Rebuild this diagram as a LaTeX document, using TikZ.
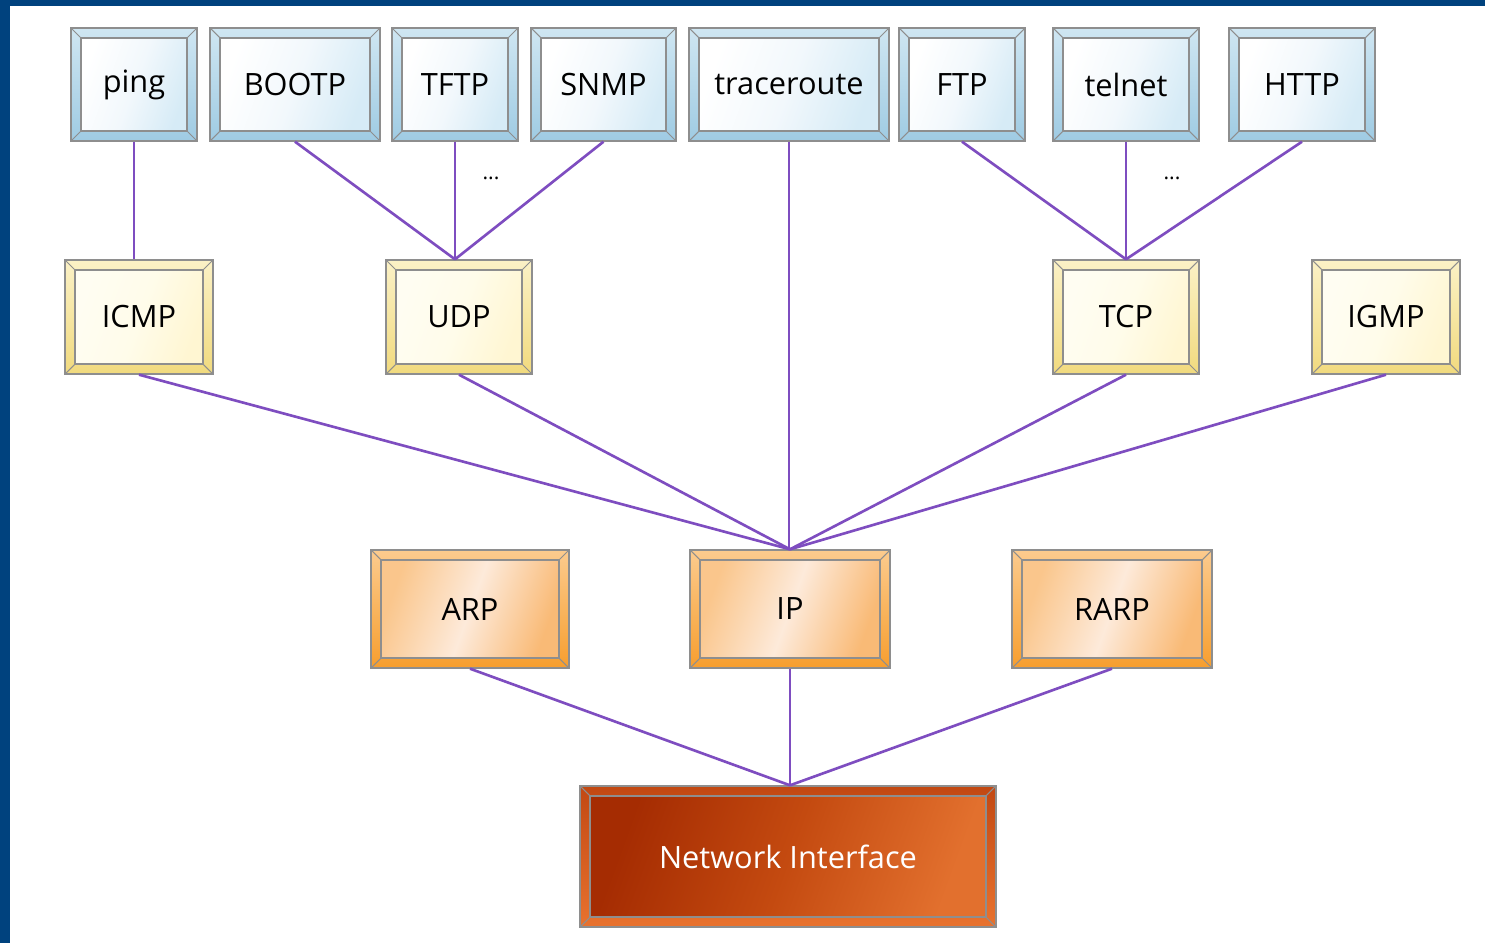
\documentclass[tikz,border=0pt]{standalone}
\usepackage{fontspec}
\setmainfont{Open Sans}
\usepackage{xcolor}
\usepackage{tikz}
\definecolor{frame}{HTML}{8E8E8E}
\definecolor{wire}{HTML}{7E4DC0}
\definecolor{border}{HTML}{00427E}
\definecolor{apptop}{HTML}{CFE6F2}
\definecolor{appbot}{HTML}{9FCBE3}
\definecolor{appmid}{HTML}{F2F8FC}
\definecolor{appright}{HTML}{D6EBF6}
\definecolor{transtop}{HTML}{FBF1C6}
\definecolor{transbot}{HTML}{F1DA7E}
\definecolor{transleft}{HTML}{FFFDF2}
\definecolor{transmid}{HTML}{FFFCEA}
\definecolor{transright}{HTML}{FFF6D2}
\definecolor{nettop}{HTML}{FCCB8E}
\definecolor{netbot}{HTML}{F79E2E}
\definecolor{netleft}{HTML}{FAC68C}
\definecolor{netmid}{HTML}{FDEADA}
\definecolor{netright}{HTML}{F9BA76}
\definecolor{linktop}{HTML}{C24812}
\definecolor{linkbot}{HTML}{E8722E}
\definecolor{linkleft}{HTML}{A52C02}
\definecolor{linkmid}{HTML}{C44A10}
\definecolor{linkright}{HTML}{E2702E}

\tikzset{
	bevel/.style n args={5}{draw=frame, line width=0.8pt, inner sep=0pt, align=center,
		font=\fontsize{17.5}{20}\selectfont, top color=#1, bottom color=#2,
		path picture={
			\coordinate (bsw) at (path picture bounding box.south west);
			\coordinate (bne) at (path picture bounding box.north east);
			\coordinate (bnw) at (path picture bounding box.north west);
			\coordinate (bse) at (path picture bounding box.south east);
			\shade[left color=#3, right color=#5, middle color=#4, shading angle=70]
				([shift={(0.2cm,0.2cm)}]bsw) rectangle ([shift={(-0.2cm,-0.2cm)}]bne);
			\draw[frame, line width=0.8pt]
				([shift={(0.2cm,0.2cm)}]bsw) rectangle ([shift={(-0.2cm,-0.2cm)}]bne);
			\draw[frame, line width=0.6pt] (bsw) -- ++(0.2cm,0.2cm) (bne) -- ++(-0.2cm,-0.2cm)
				(bnw) -- ++(0.2cm,-0.2cm) (bse) -- ++(-0.2cm,0.2cm);
		}},
	appbox/.style={bevel={apptop}{appbot}{white}{appmid}{appright}, minimum height=2.26cm},
	transbox/.style={bevel={transtop}{transbot}{transleft}{transmid}{transright}, minimum height=2.28cm},
	netbox/.style={bevel={nettop}{netbot}{netleft}{netmid}{netright}, minimum height=2.36cm},
	linkbox/.style={bevel={linktop}{linkbot}{linkleft}{linkmid}{linkright}, minimum height=2.82cm, text=white},
	wire/.style={draw=wire, line width=1.5pt, line join=round},
}

\begin{document}
\begin{tikzpicture}[x=0.02cm, y=-0.02cm]
	\fill[border] (0,0) rectangle (1485,943);
	\fill[white] (10,6) rectangle (1485,943);
	\useasboundingbox (0,0) rectangle (1485,943);

	\node (ping) [appbox, minimum width=2.52cm] at (134,84.5) {ping};
	\node (bootp) [appbox, minimum width=3.4cm] at (295,84.5) {BOOTP};
	\node (tftp) [appbox, minimum width=2.52cm] at (455,84.5) {TFTP};
	\node (snmp) [appbox, minimum width=2.9cm] at (603.5,84.5) {SNMP};
	\node (traceroute) [appbox, minimum width=4cm] at (789,84.5) {traceroute};
	\node (ftp) [appbox, minimum width=2.52cm] at (962,84.5) {FTP};
	\node (telnet) [appbox, minimum width=2.92cm] at (1126,84.5) {telnet};
	\node (http) [appbox, minimum width=2.92cm] at (1302,84.5) {HTTP};

	\node (icmp) [transbox, minimum width=2.96cm] at (139,317) {ICMP};
	\node (udp) [transbox, minimum width=2.92cm] at (459,317) {UDP};
	\node (tcp) [transbox, minimum width=2.92cm] at (1126,317) {TCP};
	\node (igmp) [transbox, minimum width=2.96cm] at (1386,317) {IGMP};

	\node (arp) [netbox, minimum width=3.96cm] at (470,609) {ARP};
	\node (ip) [netbox, minimum width=4cm] at (790,609) {IP};
	\node (rarp) [netbox, minimum width=4cm] at (1112,609) {RARP};

	\node (netif) [linkbox, minimum width=8.32cm] at (788,856.5) {Network Interface};

	\node (udpdots) [font=\large] at (491,178) {...};
	\node (tcpdots) [font=\large] at (1172,178) {...};

	\draw [wire] (ping.south) -- (ping.south |- icmp.north);
	\draw [wire] (bootp.south) -- (tftp.south |- udp.north);
	\draw [wire] (tftp.south) -- (tftp.south |- udp.north);
	\draw [wire] (snmp.south) -- (tftp.south |- udp.north);
	\draw [wire] (traceroute.south) -- (traceroute.south |- ip.north);
	\draw [wire] (ftp.south) -- (tcp.north);
	\draw [wire] (telnet.south) -- (tcp.north);
	\draw [wire] (http.south) -- (tcp.north);
	\draw [wire] (icmp.south) -- (ip.north);
	\draw [wire] (udp.south) -- (ip.north);
	\draw [wire] (tcp.south) -- (ip.north);
	\draw [wire] (igmp.south) -- (ip.north);
	\draw [wire] (arp.south) -- (netif.north -| ip.south);
	\draw [wire] (ip.south) -- (netif.north -| ip.south);
	\draw [wire] (rarp.south) -- (netif.north -| ip.south);
\end{tikzpicture}
\end{document}
